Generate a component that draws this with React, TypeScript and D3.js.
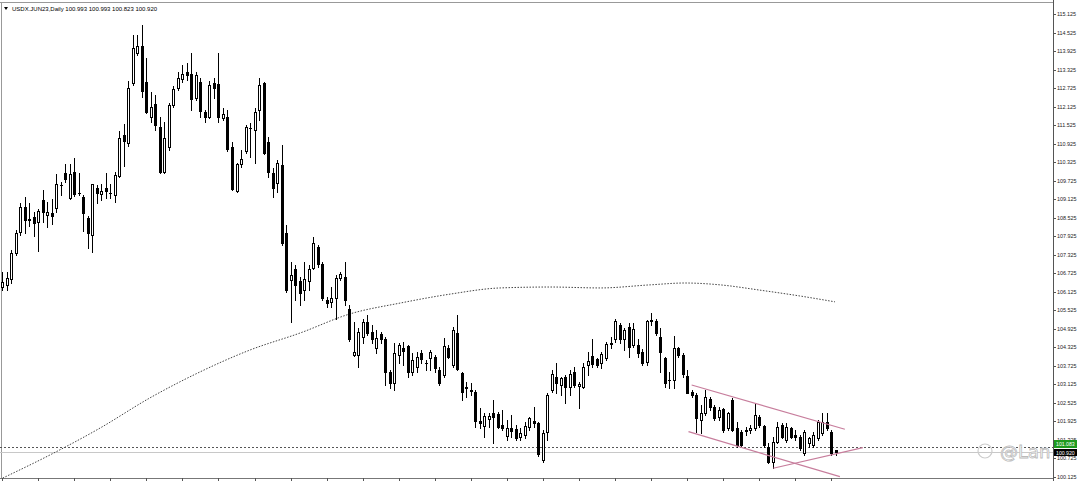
import React from "react";
import * as d3 from "d3";

const W = 1080;
const H = 481;

const title = "USDX.JUN23,Daily  100.993 100.993 100.823 100.920";

const opens = [106.29,106.35,106.53,107.37,108.06,108.88,108.46,108.56,108.40,109.10,108.61,108.69,108.83,109.60,109.98,109.16,110.02,109.33,109.21,108.51,107.98,109.50,109.29,109.50,109.31,109.26,109.88,111.21,110.96,112.88,113.85,114.09,112.93,111.78,112.20,111.47,110.02,110.83,112.18,112.72,113.01,113.26,113.17,112.40,112.93,111.94,111.80,112.90,112.86,111.77,111.80,110.83,109.40,110.25,110.69,111.44,111.37,112.02,112.88,110.99,109.96,109.64,110.23,108.03,106.51,106.85,106.48,106.19,106.48,106.91,107.59,107.02,105.86,105.81,105.92,106.56,106.62,105.57,104.08,104.08,104.65,105.16,104.83,104.32,104.75,104.58,103.54,103.16,104.08,104.30,104.37,103.54,103.70,104.15,103.82,103.97,104.00,103.59,103.43,104.30,103.76,104.80,103.51,103.02,102.93,102.89,101.95,101.78,102.00,102.21,102.17,101.81,101.46,101.72,101.67,101.41,101.49,101.76,101.95,101.87,100.66,101.59,102.95,103.38,103.11,103.36,103.03,103.54,103.08,103.03,103.76,104.05,103.94,103.81,103.97,104.45,104.59,105.05,104.59,105.00,104.40,104.40,104.19,103.86,105.18,105.19,104.67,103.97,103.26,103.27,104.30,104.08,103.40,102.89,102.78,101.97,102.19,102.64,102.40,102.08,102.32,101.70,102.62,101.70,101.59,101.60,101.65,101.70,102.08,101.78,101.11,100.62,101.27,101.81,101.33,101.70,101.49,101.43,100.89,101.22,101.16,101.38,101.54,101.92,101.59,100.993];
const highs = [106.78,106.78,107.48,108.14,109.01,109.21,109.01,108.72,108.80,109.42,109.05,109.13,109.94,109.69,110.26,110.27,110.47,109.96,109.26,108.58,109.63,109.59,109.63,109.96,109.63,110.02,111.35,111.56,112.97,114.45,114.45,114.77,113.69,112.61,112.50,111.80,111.63,112.23,112.79,113.26,113.47,113.53,113.85,113.26,113.04,112.02,112.97,113.04,113.85,112.07,112.02,110.99,110.30,110.72,111.53,111.58,112.07,113.04,112.93,111.15,110.13,110.40,110.88,108.29,107.10,106.99,106.62,107.10,106.99,107.91,107.64,107.10,105.97,106.29,106.67,106.78,107.10,105.70,105.16,104.94,105.24,105.37,105.05,104.89,104.83,104.67,103.59,104.46,104.48,104.51,104.40,104.13,104.19,104.24,103.92,104.24,104.08,103.70,104.62,104.40,105.00,105.37,103.54,103.21,103.16,102.95,102.35,102.19,102.19,102.62,102.24,102.30,101.97,102.14,101.81,101.70,101.92,102.08,102.40,101.92,101.65,102.84,103.59,103.83,103.38,103.43,103.59,103.70,103.21,103.81,104.19,104.59,103.97,104.19,104.51,104.67,105.24,105.13,104.94,105.11,105.11,104.59,104.26,105.21,105.45,105.24,104.94,104.02,103.54,104.69,104.35,104.13,103.59,102.95,102.85,102.46,102.95,102.73,102.46,102.40,102.35,102.24,102.68,101.92,101.65,101.76,101.81,102.51,102.14,101.81,101.22,101.43,101.92,101.87,101.87,101.76,101.65,101.49,101.65,101.43,101.59,101.97,102.19,102.19,101.65,100.993];
const lows = [106.18,106.18,106.42,107.32,107.98,108.03,108.26,107.92,107.46,108.40,108.22,108.32,108.72,109.26,109.69,109.12,109.24,109.26,108.08,107.53,107.43,109.01,109.10,109.16,109.16,109.05,109.86,110.21,110.85,112.83,113.80,112.45,111.91,111.63,111.37,109.99,109.96,110.72,112.10,112.66,112.92,112.99,112.02,112.34,111.80,111.63,111.75,112.40,111.63,111.70,110.69,109.42,109.37,110.18,110.63,110.50,110.29,111.70,110.58,109.85,109.21,109.37,107.64,106.13,105.16,105.86,105.70,105.86,106.19,106.85,106.94,105.86,105.62,105.64,105.24,106.51,105.70,104.53,104.03,103.70,104.48,104.73,104.46,104.13,104.46,103.11,103.00,102.95,103.81,103.76,103.38,103.43,103.54,103.81,103.59,103.59,103.54,103.11,103.38,103.97,103.70,103.59,102.62,102.73,102.78,101.76,101.70,101.43,101.76,101.22,101.70,101.65,101.33,101.43,101.33,101.33,101.38,101.65,101.76,100.79,100.62,101.33,102.89,102.84,102.78,102.51,102.78,103.05,102.35,103.00,103.43,103.70,103.70,103.65,103.92,104.30,104.51,104.46,104.24,104.02,104.35,104.02,103.76,103.76,105.05,104.73,103.54,103.03,103.00,103.00,104.02,103.38,102.84,102.73,101.59,101.54,102.14,102.30,101.97,101.97,101.59,101.65,101.63,101.11,101.11,101.49,101.54,101.65,101.76,101.11,100.57,100.41,101.22,101.38,101.27,101.38,101.33,101.00,100.84,101.11,101.11,101.33,101.49,101.65,100.84,100.823];
const closes = [106.45,106.56,107.37,108.03,108.88,108.45,108.48,108.35,108.75,108.70,108.72,108.58,109.62,109.58,109.77,109.94,109.29,109.34,108.67,108.03,109.61,109.34,109.40,109.39,109.32,109.91,111.11,111.02,112.72,114.01,114.09,112.64,111.96,112.10,111.53,110.02,111.11,112.18,112.69,113.04,113.18,113.15,112.37,113.15,111.99,111.80,112.83,112.72,111.78,111.88,110.76,109.45,110.25,110.43,111.46,111.42,111.96,112.83,110.63,110.02,109.48,110.29,107.70,106.19,106.67,106.35,106.10,106.53,106.85,107.70,107.02,105.92,105.75,105.92,106.56,106.70,105.86,104.58,104.16,104.83,105.16,104.78,104.58,104.62,104.59,103.54,103.16,104.13,104.40,104.22,103.54,103.92,104.02,103.94,103.81,104.19,103.65,103.16,104.37,104.02,104.89,103.62,102.89,103.04,102.91,101.95,101.87,102.10,102.10,102.06,101.76,101.70,101.70,101.62,101.38,101.56,101.78,102.03,101.89,100.87,101.56,102.78,103.46,103.16,103.32,103.03,103.46,103.11,103.13,103.70,103.88,103.78,103.76,104.11,104.44,104.46,105.19,104.58,104.89,104.35,104.91,104.13,103.83,105.19,105.20,104.78,104.19,103.16,103.28,104.30,104.08,103.46,102.86,102.78,102.03,102.20,102.73,102.40,102.03,102.30,101.65,102.19,101.65,101.16,101.16,101.65,101.70,102.14,101.81,101.16,100.62,101.27,101.76,101.43,101.76,101.43,101.43,101.06,101.59,101.38,101.49,101.92,101.92,101.70,100.89,100.920];

// moving average (dotted) read at bar indices
const maBars = [0, 10.5, 21.6, 32.7, 43.8, 54.9, 66, 77.1, 88.2, 99.3, 110.4, 121.5, 132.6, 143.7, 151.4, 159.2, 168, 176.9, 184.7];
const maValues = [100.09, 100.84, 101.71, 102.69, 103.53, 104.24, 104.79, 105.41, 105.76, 106.05, 106.25, 106.28, 106.25, 106.35, 106.41, 106.35, 106.18, 105.99, 105.80];

// trend lines: [bar1, price1, bar2, price2]
const trendLines = [
  [152.9, 103.107, 186.9, 101.672],
  [152.2, 101.594, 185.8, 100.136],
  [171.0, 100.408, 190.9, 101.076],
];

const hLineDashed = 101.089;
const bidPrice = 100.92;
const lineLevelLabel = "101.083";
const bidLabel = "100.920";

const priceTicks = [115.125,114.525,113.925,113.325,112.725,112.125,111.525,110.925,110.325,109.725,109.125,108.525,107.925,107.325,106.725,106.125,105.525,104.925,104.325,103.725,103.125,102.525,101.925,101.325,100.725,100.125];

export default function App() {
  const n = opens.length;
  const axisX = 1053;
  const x = d3.scaleLinear().domain([0, n - 1]).range([2.7, 836.3]);
  const y = d3.scaleLinear().domain([100.125, 115.125]).range([477, 14]);
  const px = (i: number) => Math.floor(x(i)) + 0.5;
  const font = "'Liberation Sans', Arial, sans-serif";

  const maLine = d3
    .line<number>()
    .x((_, i) => x(maBars[i]))
    .y((v) => y(v))
    .curve(d3.curveMonotoneX)(maValues);

  const dateTicks = d3.range(0, n, 8);
  const yl = Math.round(y(hLineDashed));
  const yb = Math.round(y(bidPrice));

  return (
    <svg width={W} height={H} style={{ position: "absolute", left: 0, top: 0, background: "#fff" }}>
      <defs>
        <clipPath id="plotClip">
          <rect x={0} y={0} width={axisX} height={H} />
        </clipPath>
      </defs>
      <rect x={0} y={0} width={W} height={H} fill="#fff" />
      {/* frame */}
      <line x1={0} y1={2.5} x2={axisX} y2={2.5} stroke="#999" />
      <line x1={1.5} y1={2} x2={1.5} y2={478} stroke="#999" />
      <line x1={axisX + 0.5} y1={0} x2={axisX + 0.5} y2={H} stroke="#555" />
      <line x1={0} y1={478.5} x2={axisX} y2={478.5} stroke="#777" />
      {dateTicks.map((i) => (
        <line key={"dt" + i} x1={px(i)} y1={478} x2={px(i)} y2={H} stroke="#555" />
      ))}

      {/* bid and level lines */}
      <line x1={0} y1={yb + 0.5} x2={axisX} y2={yb + 0.5} stroke="#c8c8c8" />
      <line x1={0} y1={yl + 0.5} x2={axisX} y2={yl + 0.5} stroke="#555" strokeDasharray="2,2" />

      {/* moving average */}
      <path d={maLine || ""} fill="none" stroke="#444" strokeWidth={1} strokeDasharray="1.5,1.5" />

      {/* candles */}
      {opens.map((o, i) => {
        const c = closes[i];
        const bull = c >= o;
        const xc = px(i);
        const top = Math.round(y(Math.max(o, c)));
        const bot = Math.round(y(Math.min(o, c)));
        return (
          <g key={i}>
            <line x1={xc} y1={Math.round(y(highs[i]))} x2={xc} y2={Math.round(y(lows[i])) + 1} stroke="#000" />
            <rect
              x={xc - 1}
              y={top + 0.5}
              width={2}
              height={Math.max(bot - top, 0.01)}
              fill={bull ? "#fff" : "#000"}
              stroke="#000"
              strokeWidth={1}
            />
          </g>
        );
      })}

      {/* trend lines */}
      {trendLines.map((t, k) => (
        <line key={"tl" + k} x1={x(t[0])} y1={y(t[1])} x2={x(t[2])} y2={y(t[3])} stroke="#c77d9c" strokeWidth={1.2} />
      ))}

      {/* title */}
      <path d="M4,7 L8,7 L6,10 Z" fill="#000" />
      <text x={12} y={11} fontSize={6} fontFamily={font} fill="#000">{title}</text>

      {/* price axis */}
      {priceTicks.map((p) => (
        <g key={"pt" + p}>
          <line x1={axisX} y1={Math.round(y(p)) + 0.5} x2={axisX + 3} y2={Math.round(y(p)) + 0.5} stroke="#555" />
          <text x={axisX + 4} y={y(p) + 2} fontSize={5.4} fontFamily={font} fill="#222">{p.toFixed(3)}</text>
        </g>
      ))}

      {/* price labels */}
      <rect x={axisX + 1} y={yl - 7} width={23} height={8} fill="#1f9a1f" />
      <text x={axisX + 3} y={yl - 1} fontSize={5.2} fontFamily={font} fill="#fff">{lineLevelLabel}</text>
      <rect x={axisX + 1} y={yb - 3} width={23} height={7} fill="#000" />
      <text x={axisX + 3} y={yb + 2.5} fontSize={5.2} fontFamily={font} fill="#fff">{bidLabel}</text>

      {/* watermark */}
      <g clipPath="url(#plotClip)">
        <circle cx={985} cy={451} r={7} fill="none" stroke="#ccc" strokeWidth={1.2} />
        <text x={1000} y={458} fontSize={18} fontFamily="'DejaVu Sans', sans-serif" fill="#fff" stroke="#bbb" strokeWidth={0.8}>@Lan</text>
      </g>
    </svg>
  );
}
